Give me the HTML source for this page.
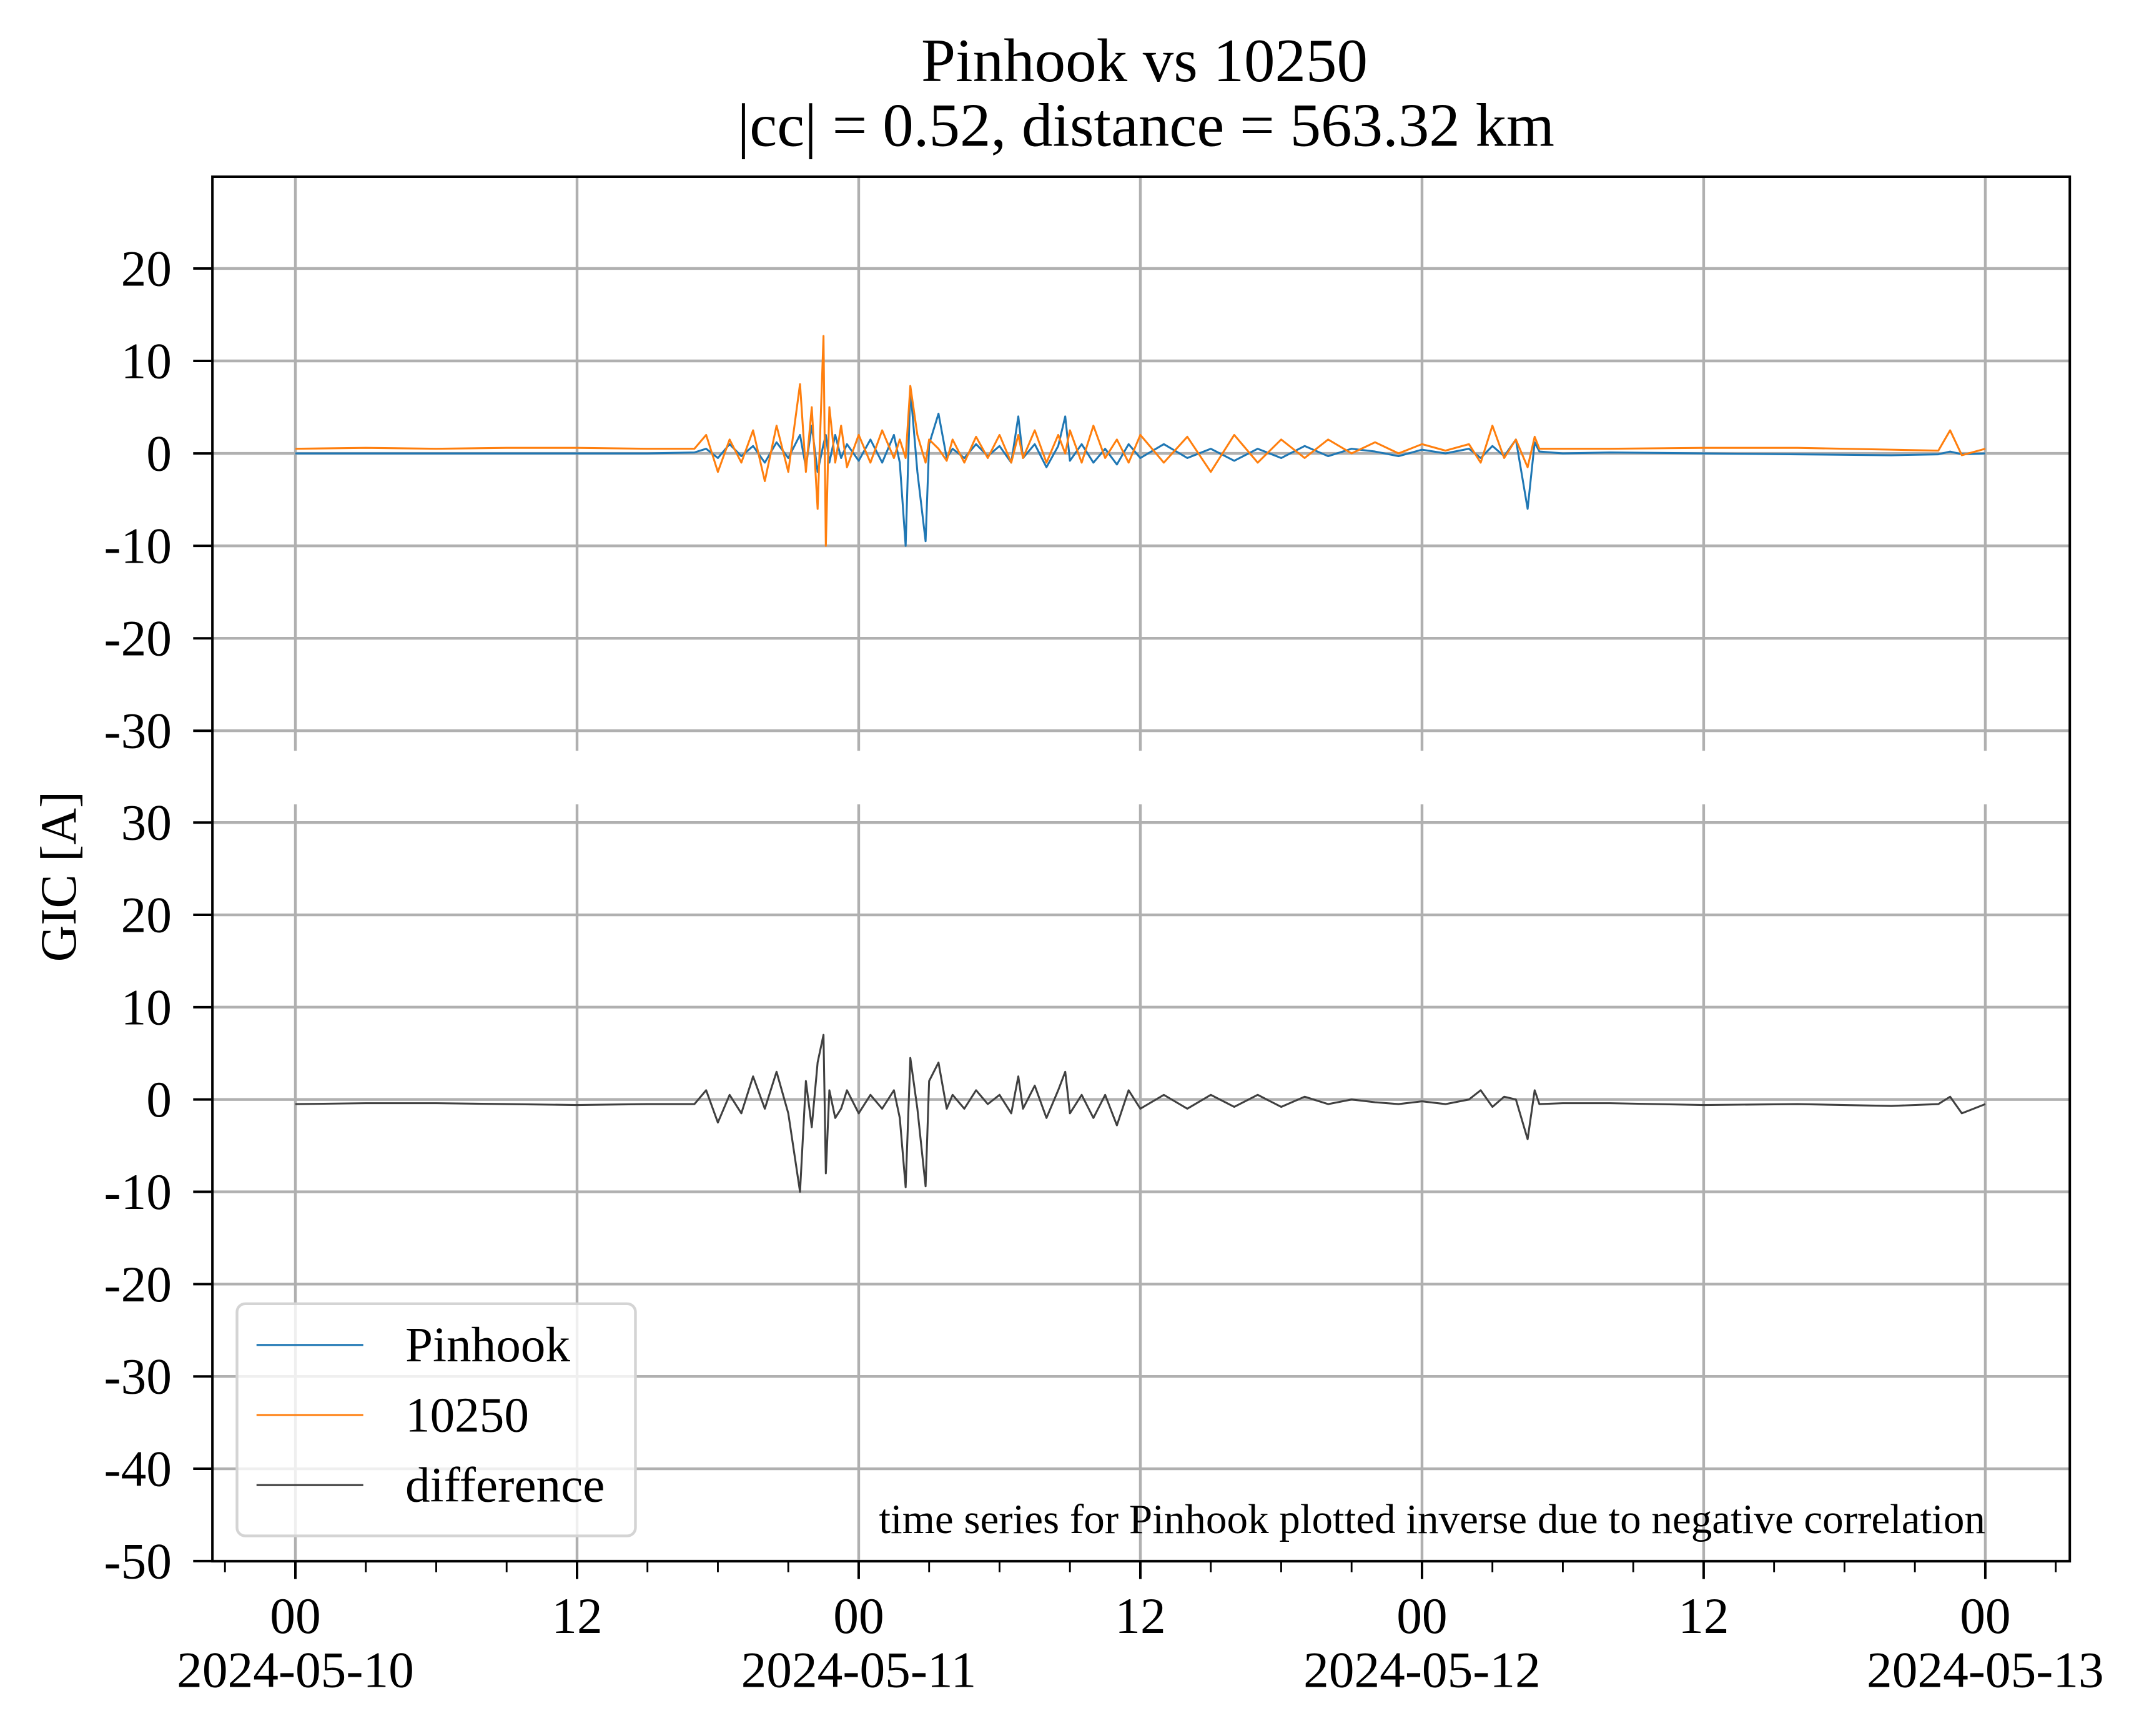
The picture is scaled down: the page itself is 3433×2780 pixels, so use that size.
<!DOCTYPE html>
<html><head><meta charset="utf-8">
<style>html,body{margin:0;padding:0;background:#fff}svg{display:block}text{font-family:"Liberation Serif",serif;fill:#000}</style>
</head><body>
<svg id="chart" width="3433" height="2780" viewBox="0 0 1560.5 1263.6" xmlns="http://www.w3.org/2000/svg">
<rect width="1560.5" height="1263.6" fill="#fff"/>
<text x="833" y="59" font-size="45" text-anchor="middle">Pinhook vs 10250</text>
<text x="834" y="106" font-size="45" text-anchor="middle">|cc| = 0.52, distance = 563.32 km</text>
<text transform="translate(55,638) rotate(-90)" font-size="37" text-anchor="middle">GIC [A]</text>
<g id="g"></g>
</svg>
<script>
const times = [0,3,6,9,12,15,17,
17.5,18,18.5,19,19.5,20,20.5,21,21.5,21.75,22,22.25,22.5,22.6,22.75,23,23.25,23.5,24,24.5,25,25.5,25.75,26,26.2,26.5,26.85,27,27.4,27.75,28,28.5,29,29.5,30,30.5,30.8,31,31.5,32,32.5,32.8,33,33.5,34,34.5,35,35.5,36,37,38,39,40,41,42,43,44,45,46,47,48,49,50,50.5,51,51.5,52,52.5,52.8,53,54,56,
60,64,68,70,70.5,71,72];
const pinhook = [0,0,0,0,0,0,0.1,
0.5,-0.5,1,-0.3,0.8,-1,1.2,-0.5,2,-1.5,3,-2,1,2,-1,2,-0.5,1,-0.8,1.5,-1,2,-1,-10,7,-2,-9.5,1,4.3,-0.5,0.5,-0.5,1,-0.3,0.8,-1,4,-0.5,1,-1.5,0.8,4,-0.8,1,-1,0.5,-1.2,1,-0.5,1,-0.5,0.5,-0.8,0.5,-0.5,0.8,-0.3,0.5,0.2,-0.3,0.4,0,0.5,-0.5,0.8,-0.3,1.5,-6,1.2,0.2,0,0.1,
0,-0.1,-0.2,-0.1,0.2,-0.1,0];
const s10250 = [0.5,0.6,0.5,0.6,0.6,0.5,0.5,
2,-2,1.5,-1,2.5,-3,3,-2,7.5,-2,5,-6,12.7,-10,5,-1,3,-1.5,2,-1,2.5,-0.5,1.5,-0.5,7.3,2,-1,1.5,0.5,-0.8,1.5,-1,1.8,-0.5,2,-1,2,-0.5,2.5,-1,2,0,2.5,-1,3,-0.5,1.5,-1,2,-1,1.8,-2,2,-1,1.5,-0.5,1.5,0,1.2,0,1,0.3,1,-1,3,-0.5,1.5,-1.5,1.8,0.5,0.5,0.5,
0.6,0.6,0.4,0.3,2.5,-0.2,0.5];
const difference = [-0.5,-0.4,-0.4,-0.5,-0.6,-0.5,-0.5,
1,-2.5,0.5,-1.5,2.5,-1,3,-1.5,-10,2,-3,4,7,-8,1,-2,-1,1,-1.5,0.5,-1,1,-2,-9.5,4.5,-1,-9.4,2,4,-1,0.5,-1,1,-0.5,0.5,-1.5,2.5,-1,1.5,-2,1,3,-1.5,0.5,-2,0.5,-2.8,1,-1,0.5,-1,0.5,-0.8,0.5,-0.8,0.3,-0.5,0,-0.3,-0.5,-0.2,-0.5,0,1,-0.8,0.3,0,-4.3,1,-0.5,-0.4,-0.4,
-0.6,-0.5,-0.7,-0.5,0.3,-1.5,-0.5];
const topTicks = [20,10,0,-10,-20,-30];
const botTicks = [30,20,10,0,-10,-20,-30,-40,-50];
const xMajorHours = [0,12,24,36,48,60,72];
const xMajorLabels = ["00","12","00","12","00","12","00"];
const xDateLabels = ["2024-05-10","","2024-05-11","","2024-05-12","","2024-05-13"];

const NS="http://www.w3.org/2000/svg";
const g=document.getElementById('g');
const L=154.6,R=1506.5;
const X=h=>215+h*205/12;
const Ytop=v=>330-v*6.73;
const Ybot=v=>800.3-v*6.72;
const T1=128.6,B1=546.5,T2=585.5,B2=1136.4;
function el(tag,attrs,parent){const e=document.createElementNS(NS,tag);for(const k in attrs)e.setAttribute(k,attrs[k]);(parent||g).appendChild(e);return e;}

xMajorHours.forEach(h=>{
  const a=el('line',{x1:X(h),x2:X(h),y1:T1,y2:B1,stroke:'#b0b0b0','stroke-width':2});
  
  
  const b=el('line',{x1:X(h),x2:X(h),y1:T2,y2:B2,stroke:'#b0b0b0','stroke-width':2});
  
  
});
topTicks.forEach(v=>{
  const a=el('line',{x1:L,x2:R,y1:Ytop(v),y2:Ytop(v),stroke:'#b0b0b0','stroke-width':2});
  
  
  const t=el('line',{x1:L-14,x2:L,y1:Ytop(v),y2:Ytop(v),stroke:'#000','stroke-width':1.8});
  
  
  const tx=el('text',{x:125,y:Ytop(v)+12.5,'font-size':37,'text-anchor':'end'});
  
  
  tx.textContent=v;
});
botTicks.forEach(v=>{
  const a=el('line',{x1:L,x2:R,y1:Ybot(v),y2:Ybot(v),stroke:'#b0b0b0','stroke-width':2});
  
  
  const t=el('line',{x1:L-14,x2:L,y1:Ybot(v),y2:Ybot(v),stroke:'#000','stroke-width':1.8});
  
  
  const tx=el('text',{x:125,y:Ybot(v)+12.5,'font-size':37,'text-anchor':'end'});
  
  
  tx.textContent=v;
});
for(let h=-3;h<=75;h+=3){
  const major=h%12===0;
  const t=el('line',{x1:X(h),x2:X(h),y1:B2,y2:B2+(major?13:8),stroke:'#000','stroke-width':major?1.8:1.3});
  
  
}
xMajorHours.forEach((h,i)=>{
  const a=el('text',{x:X(h),y:1188.6,'font-size':37,'text-anchor':'middle'});
  
  
  a.textContent=xMajorLabels[i];
  if(xDateLabels[i]){
    const b=el('text',{x:X(h),y:1228,'font-size':37,'text-anchor':'middle'});
    
    
    b.textContent=xDateLabels[i];
  }
});
function series(vals,Y,color,name){
  const d=vals.map((v,i)=>(i?'L':'M')+X(times[i]).toFixed(2)+' '+Y(v).toFixed(2)).join(' ');
  const p=el('path',{d:d,fill:'none',stroke:color,'stroke-width':1.4,'stroke-linejoin':'round'});
  
  
}
series(pinhook,Ytop,'#1f77b4','pinhook-line');
series(s10250,Ytop,'#ff7f0e','10250-line');
series(difference,Ybot,'#404040','difference-line');
const sp=el('path',{d:`M${L} ${B2} L${L} ${T1} L${R} ${T1} L${R} ${B2} Z`,fill:'none',stroke:'#000','stroke-width':1.8});


const an=el('text',{x:1445,y:1116,'font-size':30.5,'text-anchor':'end'});


an.textContent='time series for Pinhook plotted inverse due to negative correlation';
const lg=el('rect',{x:172.5,y:949,width:290,height:169,rx:6,fill:'#fff','fill-opacity':0.8,stroke:'#d4d4d4','stroke-width':2});


const legNames=['Pinhook','10250','difference'];
const legColors=['#1f77b4','#ff7f0e','#404040'];
legNames.forEach((n,i)=>{
  const yy=979+i*51;
  const l=el('line',{x1:186.7,x2:264.4,y1:yy,y2:yy,stroke:legColors[i],'stroke-width':1.4});
  
  
  const t=el('text',{x:295,y:yy+12,'font-size':36});
  
  
  t.textContent=n;
});
</script>
</body></html>
